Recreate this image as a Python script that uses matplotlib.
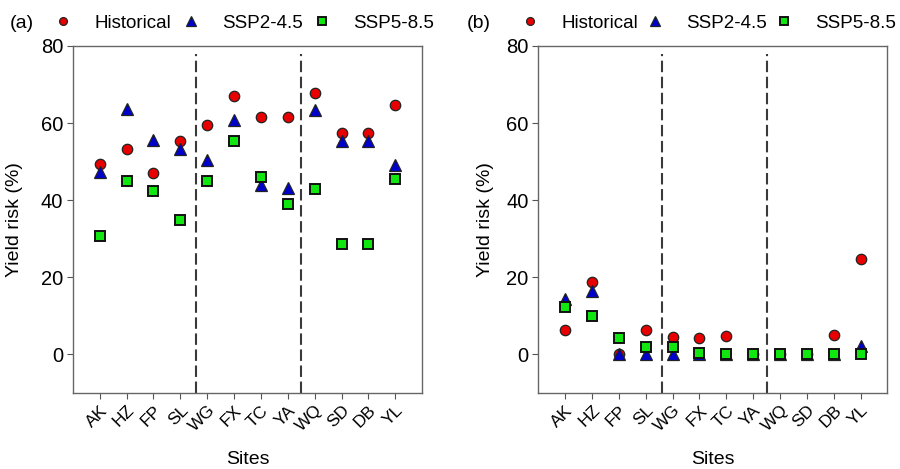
import numpy as np
import matplotlib
matplotlib.use('Agg')
from matplotlib import pyplot as plt

plt.rcParams['font.family'] = ['Liberation Sans', 'DejaVu Sans']

sites = ['AK', 'HZ', 'FP', 'SL', 'WG', 'FX', 'TC', 'YA', 'WQ', 'SD', 'DB', 'YL']

# panel (a)
hist_a = [49.3, 53.4, 47.0, 55.4, 59.5, 66.9, 61.6, 61.5, 67.7, 57.4, 57.4, 64.7]
ssp245_a = [47.3, 63.6, 55.7, 53.3, 50.3, 60.9, 44.0, 43.2, 63.4, 55.3, 55.3, 49.1]
ssp585_a = [30.7, 44.9, 42.4, 34.8, 44.9, 55.4, 46.1, 39.1, 43.0, 28.6, 28.6, 45.6]

# panel (b)
hist_b = [6.3, 18.8, 0.2, 6.3, 4.5, 4.2, 4.8, 0.0, 0.0, 0.0, 5.0, 24.7]
ssp245_b = [14.5, 16.5, 0.2, 0.0, 0.0, 0.0, 0.0, 0.0, 0.0, 0.0, 0.0, 2.3]
ssp585_b = [12.2, 10.1, 4.2, 2.0, 2.0, 0.3, 0.0, 0.0, 0.0, 0.0, 0.0, 0.0]

dividers = [4.6, 8.5]


def panel(ax, hist, s245, s585, tag, tag_x, leg_x, colsp, ypad):
  x = np.arange(1, len(sites) + 1)
  ax.plot(x, hist, 'o', color='#e80000', mec='#222222', mew=0.9, ms=7.5, label='Historical', zorder=3)
  ax.plot(x, s245, '^', color='#0000cc', mec='#222222', mew=0.9, ms=9, label='SSP2-4.5', zorder=3)
  ax.plot(x, s585, 's', color='#11e611', mec='#111111', mew=1.4, ms=7.5, label='SSP5-8.5', zorder=3)
  ax.vlines(dividers, -10, 78, colors='#3a3a3a', linewidth=1.5, linestyles=(0, (5.5, 2.2)), zorder=2)

  ax.set_xlim(0, 13)
  ax.set_ylim(-10, 80)
  ax.set_yticks([0, 20, 40, 60, 80])
  ax.set_xticks(x)
  ax.set_xticklabels(sites, rotation=45, ha='right', rotation_mode='anchor', fontsize=12.5)
  ax.tick_params(axis='y', labelsize=14.5, length=4, color='#555555', pad=3)
  ax.tick_params(axis='x', length=4, color='#555555', pad=3)
  for s in ax.spines.values():
    s.set_color('#666666')
    s.set_linewidth(1.0)
  ax.set_ylabel('Yield risk (%)', fontsize=14, labelpad=ypad)
  ax.set_xlabel('Sites', fontsize=14, labelpad=12)

  ax.legend(ncol=3, frameon=False, loc='center left', bbox_to_anchor=(leg_x, 1.066),
            borderaxespad=0, borderpad=0, handlelength=1.0, handletextpad=1.15,
            columnspacing=colsp, markerscale=0.75, fontsize=13.5)
  ax.text(tag_x, 1.066, tag, transform=ax.transAxes, fontsize=14, va='center', ha='left')


fig = plt.figure(figsize=(9, 4.69), dpi=100)
ax1 = fig.add_axes([0.081, 0.162, 0.388, 0.740])
ax2 = fig.add_axes([0.598, 0.162, 0.388, 0.740])

panel(ax1, hist_a, ssp245_a, ssp585_a, '(a)', -0.18, -0.054, 0.55, 13)
panel(ax2, hist_b, ssp245_b, ssp585_b, '(b)', -0.205, -0.049, 0.42, 9)

fig.savefig('out.png', dpi=100)
